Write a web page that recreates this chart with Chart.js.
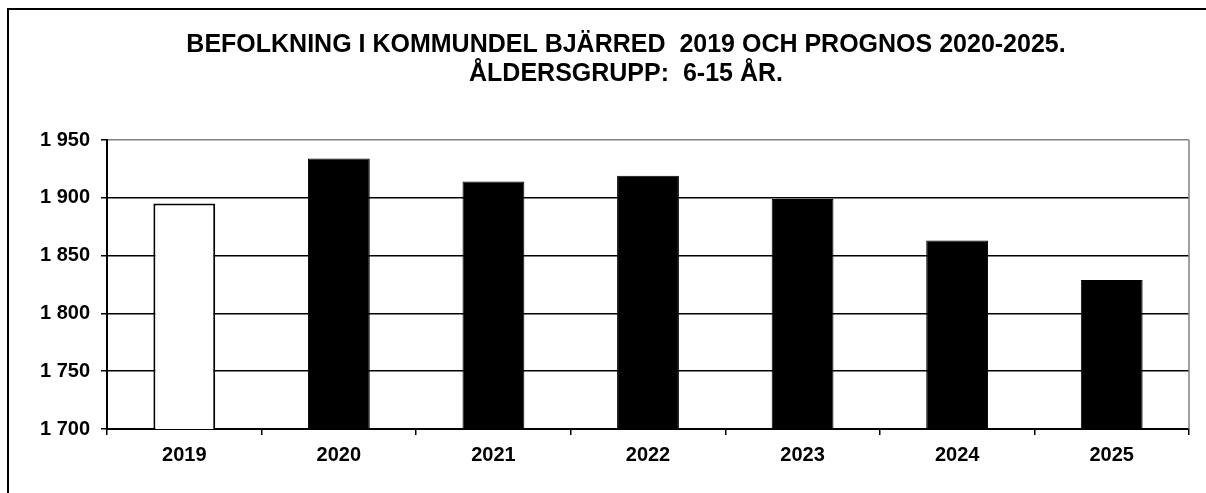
<!DOCTYPE html>
<html>
<head>
<meta charset="utf-8">
<script src="https://cdn.jsdelivr.net/npm/chart.js@4/dist/chart.umd.min.js"></script>
<style>
  html, body { margin: 0; padding: 0; background: #fff; overflow: hidden; }
  #frame { position: absolute; left: 7px; top: 8px; width: 1400px; height: 700px;
           border-left: 2px solid #000; border-top: 2px solid #000; }
  #wrap { position: absolute; left: 0; top: 0; width: 1206px; height: 493px; }
</style>
</head>
<body>
<div id="frame"></div>
<div id="wrap"><canvas id="c" width="1206" height="493"></canvas></div>
<script>
const categories = ['2019', '2020', '2021', '2022', '2023', '2024', '2025'];
const population = [1895, 1934, 1914, 1919, 1899, 1863, 1829];
const titleLines = ['BEFOLKNING I KOMMUNDEL BJÄRRED  2019 OCH PROGNOS 2020-2025.', 'ÅLDERSGRUPP:  6-15 ÅR.'];
const yMin = 1700, yMax = 1950, yStep = 50;

const FONT = 'Arial, "Liberation Sans", sans-serif';

// Title drawn centred over the frame, plus the grey right edge of the plot area
const decor = {
  id: 'decor',
  afterDraw(chart) {
    const { ctx, chartArea } = chart;
    ctx.save();
    ctx.strokeStyle = '#808080';
    ctx.lineWidth = 1.5;
    ctx.beginPath();
    ctx.moveTo(chartArea.right, chartArea.top);
    ctx.lineTo(chartArea.right, chartArea.bottom);
    ctx.stroke();

    ctx.fillStyle = '#000';
    ctx.font = 'bold 25px ' + FONT;
    ctx.textAlign = 'center';
    ctx.textBaseline = 'alphabetic';
    titleLines.forEach((t, i) => ctx.fillText(t, 626, 52 + i * 29));
    ctx.restore();
  }
};

new Chart(document.getElementById('c'), {
  type: 'bar',
  data: {
    labels: categories,
    datasets: [{
      data: population,
      backgroundColor: categories.map(c => c === '2019' ? '#ffffff' : '#000000'),
      borderColor: '#000000',
      borderWidth: categories.map(c => c === '2019' ? 2 : 1),
      categoryPercentage: 1.0,
      barPercentage: 0.4
    }]
  },
  options: {
    responsive: false,
    animation: false,
    events: [],
    layout: { padding: { left: 0, right: 17, top: 140, bottom: 0 } },
    plugins: {
      legend: { display: false },
      tooltip: { enabled: false },
      title: { display: false }
    },
    scales: {
      x: {
        afterFit: s => { s.height = 64; },
        grid: {
          offset: true,
          drawOnChartArea: false,
          color: '#000',
          tickColor: '#000',
          tickLength: 6,
          lineWidth: 1.5
        },
        border: { color: '#000', width: 2 },
        ticks: {
          color: '#000',
          padding: 8,
          font: { family: FONT, size: 20, weight: 'bold' }
        }
      },
      y: {
        min: yMin,
        max: yMax,
        afterFit: s => { s.width = 107; },
        grid: {
          color: ctx => (ctx.tick && ctx.tick.value === yMax) ? '#808080' : '#000',
          tickColor: '#000',
          tickLength: 6,
          lineWidth: 1.5
        },
        border: { color: '#000', width: 2 },
        ticks: {
          stepSize: yStep,
          color: '#000',
          padding: 11,
          font: { family: FONT, size: 20, weight: 'bold' },
          callback: v => String(v).replace(/\B(?=(\d{3})+(?!\d))/g, ' ')
        }
      }
    }
  },
  plugins: [decor]
});
</script>
</body>
</html>
